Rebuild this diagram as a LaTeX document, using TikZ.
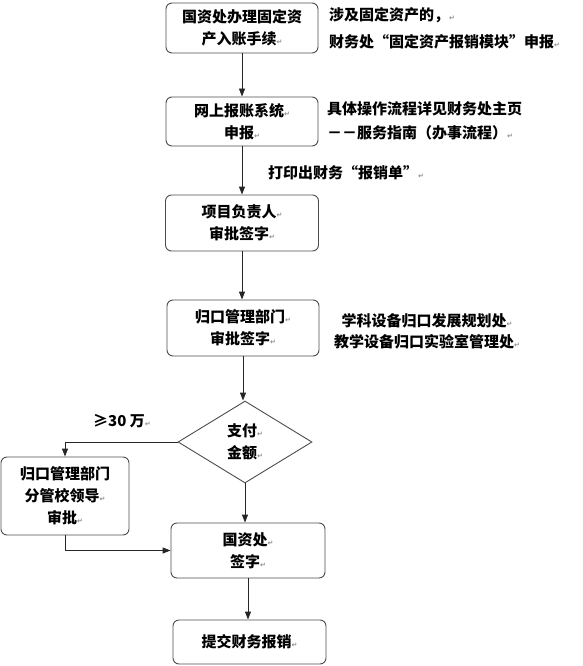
\documentclass[tikz,border=0pt]{standalone}
\usepackage{fontspec}
\setmainfont{Noto Sans CJK SC}
\newfontfamily\fwfont[RawFeature=+fwid]{Noto Sans CJK SC}
\newfontfamily\markfont{DejaVu Sans}
\usetikzlibrary{arrows.meta,shapes.geometric}
\newcommand{\rt}{{\markfont\fontsize{7}{7}\selectfont\textcolor{black!45}{↵}}}
\newcommand{\fq}[1]{{\fwfont\bfseries #1}}
\tikzset{
  box/.style={draw=black!70, line width=0.9pt, rounded corners=6pt, align=center,
    inner sep=0pt, font=\bfseries\fontsize{15}{22}\selectfont},
  side/.style={align=left, inner sep=0pt, font=\bfseries\fontsize{15}{27}\selectfont},
  flow/.style={draw=black!85, line width=0.9pt, -{Triangle[length=8pt,width=6pt]}}
}
\begin{document}
\begin{tikzpicture}[x=1pt,y=-1pt]
\useasboundingbox (0,0) rectangle (582,666);
\node[box, minimum width=152pt, minimum height=50pt] (b1) at (242,28) {国资处办理固定资\\产入账手续\rt};
\node[box, minimum width=152pt, minimum height=49pt] (b2) at (242,121.5) {网上报账系统\rt\\申报\rt};
\node[box, minimum width=153pt, minimum height=56pt] (b3) at (242,223) {项目负责人\rt\\审批签字\rt};
\node[box, minimum width=152pt, minimum height=56pt] (b4) at (243,328) {归口管理部门\rt\\审批签字\rt};
\node[draw=black!70, line width=0.9pt, shape=diamond, inner sep=0pt, minimum width=134pt, minimum height=82pt, align=center, font=\bfseries\fontsize{15}{22}\selectfont] (d) at (245,442) {支付\rt\\金额\rt};
\node[box, minimum width=128pt, minimum height=78pt] (lb) at (65,496) {归口管理部门\\分管校领导\rt\\审批\rt};
\node[box, minimum width=154pt, minimum height=55pt] (g) at (248,550.5) {国资处\rt\\签字\rt};
\node[box, minimum width=153pt, minimum height=44pt] (f) at (249.5,642) {提交财务报销\rt};

\node[side, anchor=west] (s1) at (329,28.5) {涉及固定资产的，\rt\\财务处\fq{“}固定资产报销模块\fq{”}申报\rt};
\node[side, anchor=west, font=\bfseries\fontsize{15}{24}\selectfont] (s2) at (327,121) {具体操作流程详见财务处主页\\－－服务指南（办事流程）\rt};
\node[side, anchor=west] (s3) at (268,173) {打印出财务\fq{“}报销单\fq{”}\rt};
\node[side, align=center, font=\bfseries\fontsize{15}{21}\selectfont] (s4) at (427,331.5) {学科设备归口发展规划处\rt\\教学设备归口实验室管理处\rt};
\node[side, anchor=west] (s5) at (93,421) {≥30 万\rt};

\draw[flow] (b1.south) -- (b1.south |- b2.north);
\draw[flow] (b2.south) -- (b2.south |- b3.north);
\draw[flow] (b3.south) -- (b3.south |- b4.north);
\draw[flow] (b4.south) -- (b4.south |- d.north);
\draw[flow] (d.south) -- (d.south |- g.north);
\draw[flow] (d.west) -| (lb.north);
\draw[flow] (lb.south) |- (g.west);
\draw[flow] (g.south) -- (g.south |- f.north);
\end{tikzpicture}
\end{document}
